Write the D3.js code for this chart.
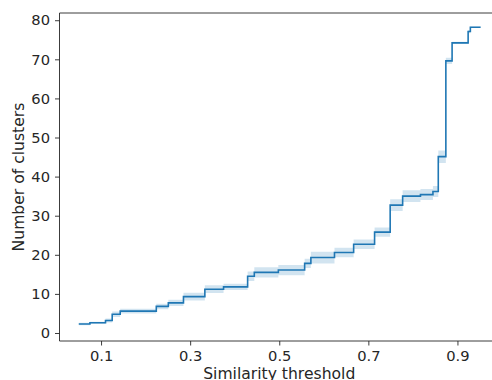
<!DOCTYPE html>
<html>
<head>
<meta charset="utf-8">
<script src="https://cdn.jsdelivr.net/npm/d3@7"></script>
<style>
  html, body { margin: 0; padding: 0; background: #fff; }
  svg { display: block; }
  text { font-family: "DejaVu Sans", sans-serif; fill: #262626; }
</style>
</head>
<body>
<svg id="chart" width="492" height="380"></svg>
<script>
// Step positions (similarity threshold) and mean number of clusters
const thresholds = [0.05, 0.075, 0.11, 0.125, 0.143, 0.224, 0.251, 0.285, 0.333, 0.375, 0.429, 0.444, 0.498, 0.557, 0.571, 0.624, 0.667, 0.714, 0.749, 0.777, 0.817, 0.845, 0.857, 0.874, 0.888, 0.924, 0.929, 0.952];
const clusters   = [2.3, 2.6, 3.2, 4.8, 5.6, 6.8, 7.7, 9.3, 11.2, 11.8, 14.5, 15.5, 16.1, 17.8, 19.3, 20.6, 22.7, 25.8, 32.7, 35.0, 35.4, 36.2, 45.1, 69.6, 74.2, 77.1, 78.2, 78.2];
const ciHalf     = [0.3, 0.3, 0.5, 0.7, 0.6, 0.7, 0.8, 1.0, 1.0, 0.8, 1.2, 1.3, 1.3, 1.2, 1.5, 1.2, 1.2, 1.2, 1.5, 1.5, 1.4, 1.4, 1.6, 0.8, 0.3, 0.4, 0.2, 0.2];
const xTicks = [0.1, 0.3, 0.5, 0.7, 0.9];
const yTicks = [0, 10, 20, 30, 40, 50, 60, 70, 80];
const xLabel = "Similarity threshold";
const yLabel = "Number of clusters";

const data = thresholds.map((t, i) => ({ x: t, y: clusters[i], lo: clusters[i] - ciHalf[i], hi: clusters[i] + ciHalf[i] }));

const svg = d3.select("#chart");
const mL = 59.5, mR = 499, mT = 13, mB = 341;

const x = d3.scaleLinear().domain([0.0067, 0.9933]).range([mL, mR]);
const y = d3.scaleLinear().domain([-2.05, 81.85]).range([mB, mT]);

// confidence band
svg.append("path")
  .datum(data)
  .attr("fill", "#1f77b4")
  .attr("fill-opacity", 0.2)
  .attr("d", d3.area().curve(d3.curveStepAfter)
    .x(d => x(d.x)).y0(d => y(d.lo)).y1(d => y(d.hi)));

// mean line
svg.append("path")
  .datum(data)
  .attr("fill", "none")
  .attr("stroke", "#1f77b4")
  .attr("stroke-width", 1.6)
  .attr("d", d3.line().curve(d3.curveStepAfter).x(d => x(d.x)).y(d => y(d.y)));

// axes
const xAxis = svg.append("g").attr("transform", `translate(0,${mB})`)
  .call(d3.axisBottom(x).tickValues(xTicks).tickFormat(d3.format(".1f")).tickSize(4.5).tickPadding(5));
const yAxis = svg.append("g").attr("transform", `translate(${mL},0)`)
  .call(d3.axisLeft(y).tickValues(yTicks).tickFormat(d3.format("d")).tickSize(4.5).tickPadding(5));
[xAxis, yAxis].forEach(g => {
  g.select(".domain").remove();
  g.selectAll(".tick line").attr("stroke", "#262626").attr("stroke-width", 0.9);
  g.selectAll(".tick text").attr("font-size", "14.7px").attr("font-family", "DejaVu Sans, sans-serif").attr("fill", "#262626");
});

// spines
const spine = (x1, y1, x2, y2) => svg.append("line").attr("x1", x1).attr("y1", y1).attr("x2", x2).attr("y2", y2)
  .attr("stroke", "#262626").attr("stroke-width", 0.9);
spine(mL, mT, mL, mB);
spine(mL, mB, mR, mB);
spine(mL, mT, mR, mT);
spine(mR, mT, mR, mB);

// axis titles
svg.append("text")
  .attr("x", (mL + mR) / 2).attr("y", 378.5)
  .attr("text-anchor", "middle").attr("font-size", "15.6px")
  .text(xLabel);
svg.append("text")
  .attr("transform", `translate(24,${(mT + mB) / 2}) rotate(-90)`)
  .attr("text-anchor", "middle").attr("font-size", "15.6px")
  .text(yLabel);
</script>
</body>
</html>
